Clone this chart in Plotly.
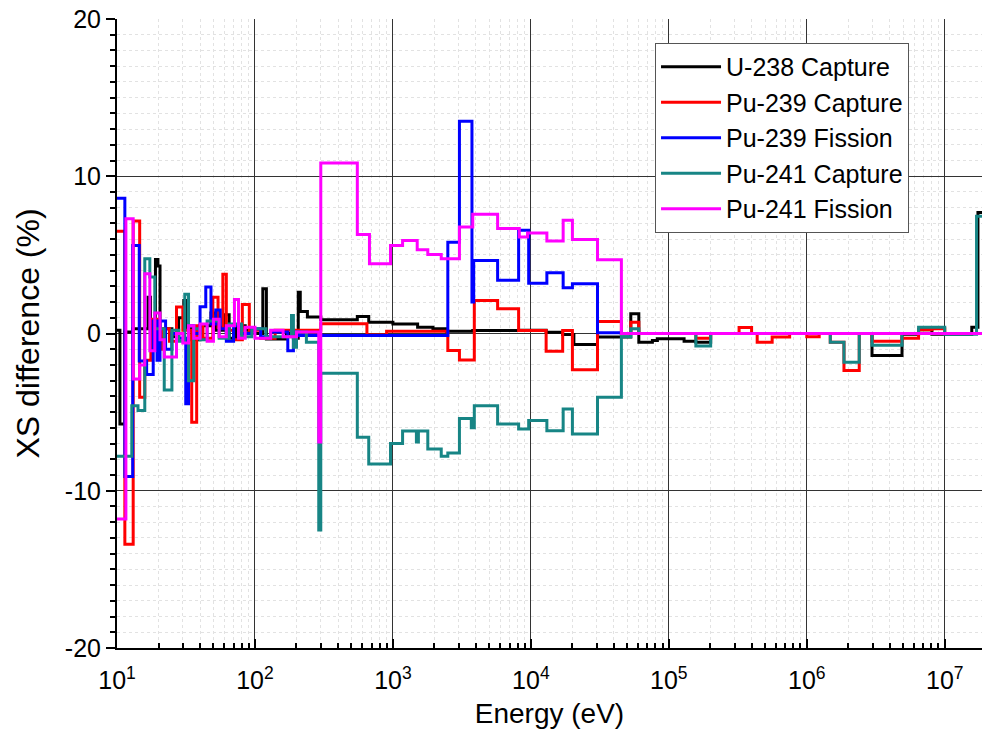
import plotly.graph_objects as go

END_E = 2.0e7

u238_cap_E = [10, 10.5, 11.4, 13.0, 16.8, 17.5, 19.0, 19.8, 20.5, 22, 25, 28, 30.5, 31.5, 35, 40,
              48, 52, 60, 65, 73, 85, 100, 114, 121, 169, 190, 206, 213, 240, 300, 552, 668,
              1000, 1510, 1950, 2440, 3790, 8150, 12900, 17000, 20500, 30400, 53000, 60600,
              76000, 82600, 129000, 157000, 201000, 2.97e6, 4.9e6, 6.46e6, 8.07e6, 1.57e7, 1.74e7]
u238_cap_V = [0.2, -5.75, 0.1, 0.3, 2.3, -0.3, 4.7, 4.3, -0.3, 0.3, -0.2, 1.0, 2.1, 0.3, -0.4, 0.5,
              1.3, 0.2, 1.2, -0.3, 0.5, 0.2, 0.0, 2.85, -0.35, 0.0, -0.3, 2.63, 1.4, 1.05, 0.87, 1.08, 0.72,
              0.6, 0.4, 0.3, 0.15, 0.19, 0.2, 0.08, -0.06, -0.7, -0.23, 1.25, -0.55,
              -0.45, -0.33, -0.5, -0.55, 0.0, -1.4, -0.05, 0.24, -0.05, 0.4, 7.7]

pu239_cap_E = [10, 11.4, 13.1, 14.6, 15.9, 17.6, 19.5, 21, 24, 27, 30, 34.8, 37.8, 42, 49.5, 54,
               58.5, 62, 70, 81, 91, 110, 140, 300, 648, 900, 2500, 3035, 3890, 5740, 8150,
               12900, 17000, 20000, 30400, 45300, 53000, 60600, 157000, 201000, 323000, 398000,
               437000, 561000, 751000, 1.0e6, 1.23e6, 1.48e6, 1.86e6, 2.4e6, 2.97e6, 4.9e6,
               6.46e6, 8.07e6, 1.0e7]
pu239_cap_V = [6.5, -13.4, 7.15, -4.05, -1.7, 0.9, -1.0, 0.3, -0.5, 1.68, 0.2, -5.65, 0.5, -0.3, 2.3, 0.4,
               3.76, 0.2, -0.4, 1.85, 0.2, -0.3, 0.2, 0.62, -0.1, 0.15, -1.08, -1.68, 2.1, 1.57, 0.19,
               -1.13, 0.19, -2.31, 0.76, 0.0, 0.72, 0.0, -0.3, 0.0, 0.38, 0.0,
               -0.55, -0.23, 0.0, -0.2, 0.0, -0.55, -2.36, 0.0, -0.5, -0.3,
               0.24, 0.3, 0.0]

pu239_fis_E = [10, 11.4, 13.0, 14.5, 16.4, 18.3, 19.5, 20.5, 22.5, 25, 28, 31.5, 33, 36, 40, 44,
               48, 52, 56, 62, 70, 80, 95, 110, 130, 173, 190, 210, 2500, 3035, 3740, 3850,
               5740, 8150, 9640, 13060, 17140, 20000, 30400, 45300]
pu239_fis_V = [8.6, -9.1, 5.6, -1.75, -2.6, 0.8, -1.7, 0.8, -1.0, 0.0, -0.3, -4.46, 0.5, 0.0, 1.7, 2.95,
               0.6, 1.5, 0.3, -0.5, 0.5, 0.0, 0.3, -0.2, 0.1, -1.1, 0.1, -0.13, 5.8, 13.5, 2.0, 4.65,
               3.38, 6.56, 3.2, 3.86, 2.91, 3.16, 0.05, 0.0]

pu241_cap_E = [10, 12.8, 14.2, 15.9, 17.3, 18.8, 22, 25, 28, 31, 33, 36, 40, 45, 55, 65, 80, 95,
               120, 184, 190, 200, 236, 290, 300, 552, 668, 961, 1175, 1480, 1530, 1790, 2240,
               2500, 3035, 3700, 3890, 5740, 8150, 9640, 13060, 17140, 20000, 30400, 45300,
               53000, 60600, 157000, 201000, 1.48e6, 1.86e6, 2.4e6, 2.97e6, 4.9e6, 6.46e6,
               1.0e7, 1.7e7]
pu241_cap_V = [-7.8, -4.6, -4.9, 4.76, 3.6, 0.3, -3.6, 0.2, -0.5, 2.5, -3.0, 0.3, -0.4, 0.8, -0.3, 0.6, -0.2, 0.3,
               -0.2, 1.15, -0.87, 0.1, -0.55, -12.5, -2.53, -6.6, -8.3, -7.0, -6.2, -6.9, -6.2, -7.35, -7.8,
               -7.6, -5.4, -6.0, -4.6, -5.75, -6.07, -5.54, -6.18, -4.8, -6.39, -4.06, -0.2,
               0.3, 0.0, -0.8, 0.0, -0.55, -1.83, 0.0, -0.75, 0.0, 0.4,
               -0.05, 7.45]

pu241_fis_E = [10, 11.6, 13.1, 14.6, 15.9, 17.3, 18.8, 20.5, 22, 27, 30, 33, 36, 40, 45, 50, 55, 62,
               71, 76, 85, 100, 130, 160, 200, 290, 300, 552, 676, 961, 1175, 1500, 1790, 2240,
               3035, 3790, 5740, 8240, 9460, 13060, 17140, 20000, 30400, 45300]
pu241_fis_V = [-11.8, 7.3, -2.9, -2.0, 3.8, -1.1, 1.3, -0.4, -1.5, 0.0, -0.6, 0.5, -0.3, 0.6, -0.5, 0.9, -0.2, 0.5,
               2.17, -0.3, 0.4, -0.3, 0.2, -0.2, 0.1, -6.9, 10.85, 6.29, 4.44, 5.6, 5.92, 5.33, 5.03, 4.76,
               6.77, 7.58, 6.67, 6.13, 6.39, 5.88, 7.2, 5.97, 4.69, 0.0]

series_names = ["U-238 Capture", "Pu-239 Capture", "Pu-239 Fission", "Pu-241 Capture", "Pu-241 Fission"]
series_colors = ["#000000", "#FF0000", "#0000FF", "#178585", "#FF00FF"]
series_data = [(u238_cap_E, u238_cap_V), (pu239_cap_E, pu239_cap_V), (pu239_fis_E, pu239_fis_V),
               (pu241_cap_E, pu241_cap_V), (pu241_fis_E, pu241_fis_V)]

x_tickvals = [1e1, 1e2, 1e3, 1e4, 1e5, 1e6, 1e7]
x_ticktext = ["10<sup>1</sup>", "10<sup>2</sup>", "10<sup>3</sup>", "10<sup>4</sup>",
              "10<sup>5</sup>", "10<sup>6</sup>", "10<sup>7</sup>"]
y_tickvals = [-20, -10, 0, 10, 20]
y_ticktext = ["-20", "-10", "0", "10", "20"]

fig = go.Figure()
for name, color, (E, V) in zip(series_names, series_colors, series_data):
    assert len(E) == len(V), name
    fig.add_trace(go.Scatter(
        x=list(E) + [END_E], y=list(V) + [V[-1]],
        mode="lines", line=dict(color=color, width=3, shape="hv"), name=name))

fig.update_layout(
    width=982, height=734,
    margin=dict(l=117, r=0, t=19, b=86),
    paper_bgcolor="white", plot_bgcolor="white",
    font=dict(family="Arial, Liberation Sans", color="#111"),
    legend=dict(x=0.622, y=0.962, xanchor="left", yanchor="top",
                font=dict(size=25, color="#000"), bgcolor="white",
                bordercolor="#555", borderwidth=1, tracegroupgap=0,
                itemwidth=60),
    showlegend=True,
)
fig.update_xaxes(
    type="log", range=[1, 7.27],
    tickvals=x_tickvals, ticktext=x_ticktext, tickfont=dict(size=25, color="#000"),
    ticks="inside", ticklen=9, tickcolor="#000", tickwidth=1.5, ticklabelstandoff=9,
    showline=True, linecolor="#000", linewidth=2,
    showgrid=True, gridcolor="#333", gridwidth=1,
    minor=dict(dtick="D1", ticks="inside", ticklen=5, tickcolor="#000",
               showgrid=True, gridcolor="#E2E2E2", griddash="dot", gridwidth=1),
    title=dict(text="Energy (eV)", font=dict(size=28, color="#000"), standoff=10),
    zeroline=False,
)
fig.update_yaxes(
    range=[-20, 20],
    tickvals=y_tickvals, ticktext=y_ticktext, tickfont=dict(size=25, color="#000"),
    ticks="outside", ticklen=9, tickcolor="#000", tickwidth=1.5,
    showline=True, linecolor="#000", linewidth=2,
    showgrid=True, gridcolor="#333", gridwidth=1,
    minor=dict(dtick=1, ticks="outside", ticklen=5, tickcolor="#000",
               showgrid=True, gridcolor="#E2E2E2", griddash="dot", gridwidth=1),
    title=dict(text="XS difference (%)", font=dict(size=32, color="#000"), standoff=16),
    zeroline=False,
)

fig.write_html("out.html")
